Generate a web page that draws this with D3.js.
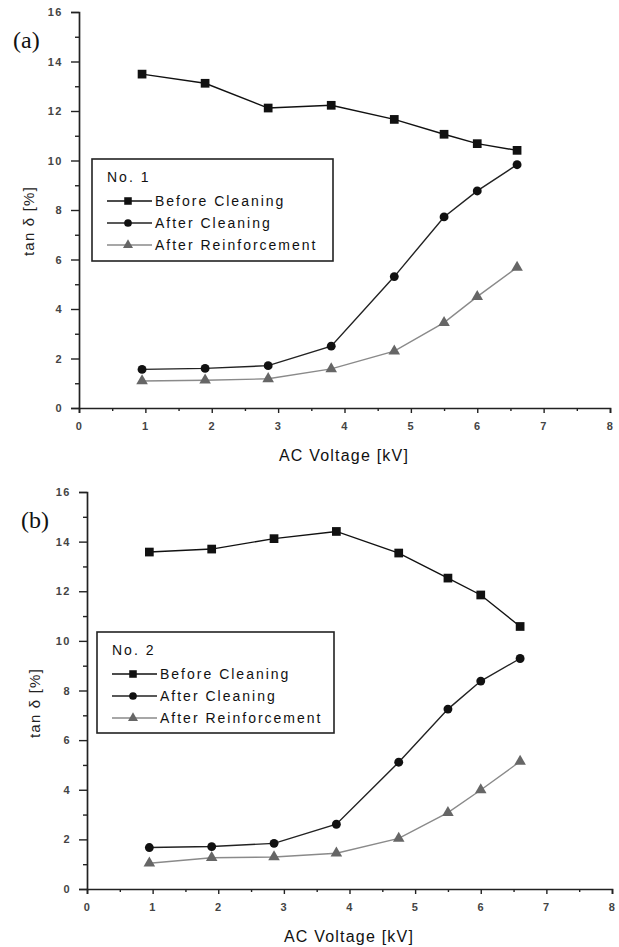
<!DOCTYPE html>
<html><head><meta charset="utf-8">
<script src="https://cdn.jsdelivr.net/npm/d3@7"></script>
<style>body{margin:0;background:#fff}svg{display:block}</style>
</head><body>
<svg id="c" width="619" height="947"></svg>
<script>
const voltage = [0.95, 1.9, 2.85, 3.8, 4.75, 5.5, 6.0, 6.6];
const seriesNames = ["Before Cleaning", "After Cleaning", "After Reinforcement"];
const xTicks = [0,1,2,3,4,5,6,7,8];
const yTicks = [0,2,4,6,8,10,12,14,16];
// Panel (a) No. 1
const a_before = [13.49, 13.12, 12.12, 12.23, 11.66, 11.06, 10.68, 10.41];
const a_after  = [1.56, 1.60, 1.71, 2.50, 5.31, 7.72, 8.77, 9.83];
const a_reinf  = [1.09, 1.12, 1.18, 1.58, 2.30, 3.45, 4.50, 5.68];
// Panel (b) No. 2
const b_before = [13.58, 13.70, 14.12, 14.41, 13.54, 12.53, 11.85, 10.58];
const b_after  = [1.67, 1.71, 1.84, 2.61, 5.11, 7.25, 8.38, 9.29];
const b_reinf  = [1.04, 1.26, 1.29, 1.44, 2.04, 3.08, 3.99, 5.14];

const svg = d3.select("#c");
const FONT = "Liberation Sans, Arial, sans-serif";
const styles = [
  {line:"#111", fill:"#111", shape:d3.symbolSquare, size:76},
  {line:"#222", fill:"#111", shape:d3.symbolCircle, size:62},
  {line:"#8a8a8a", fill:"#666", shape:d3.symbolTriangle, size:58}
];

function panel(cfg){
  const g = svg.append("g");
  const x = d3.scaleLinear().domain([0,8]).range([cfg.x0, cfg.x1]);
  const y = d3.scaleLinear().domain([0,16]).range([cfg.y0, cfg.y1]);
  g.append("g").attr("transform",`translate(0,${cfg.y0})`)
    .call(d3.axisBottom(x).tickValues(xTicks).tickSize(5).tickPadding(9).tickFormat(d3.format("d")));
  g.append("g").attr("transform",`translate(0,${cfg.y0})`)
    .call(d3.axisBottom(x).tickValues(d3.range(0.5,8,1)).tickSize(3).tickFormat(""))
    .select(".domain").remove();
  g.append("g").attr("transform",`translate(${cfg.x0},0)`)
    .call(d3.axisLeft(y).tickValues(yTicks).tickSize(8).tickPadding(8).tickFormat(d3.format("d")));
  g.append("g").attr("transform",`translate(${cfg.x0},0)`)
    .call(d3.axisLeft(y).tickValues(d3.range(1,16,2)).tickSize(4).tickFormat(""))
    .select(".domain").remove();
  g.selectAll(".domain").attr("stroke","#222").attr("stroke-width",1.7);
  g.selectAll(".tick line").attr("stroke","#222").attr("stroke-width",1.4);
  g.selectAll(".tick text").attr("font-family",FONT).attr("font-size",11).attr("font-weight","bold")
    .attr("letter-spacing",1.5).attr("fill","#444");

  const data = [cfg.before, cfg.after, cfg.reinf];
  const line = d3.line().x((d,i)=>x(voltage[i])).y(d=>y(d));
  [2,1,0].forEach(k=>{
    g.append("path").datum(data[k]).attr("d",line).attr("fill","none")
      .attr("stroke",styles[k].line).attr("stroke-width",1.4);
    g.selectAll(null).data(data[k]).enter().append("path")
      .attr("transform",(d,i)=>`translate(${x(voltage[i])},${y(d)})`)
      .attr("d",d3.symbol().type(styles[k].shape).size(styles[k].size))
      .attr("fill",styles[k].fill);
  });

  const L = cfg.legend;
  g.append("rect").attr("x",L.x).attr("y",L.y).attr("width",L.w).attr("height",L.h)
    .attr("fill","#fff").attr("stroke","#222").attr("stroke-width",1.6);
  g.append("text").attr("x",L.x+15).attr("y",L.y+23).text(cfg.name)
    .attr("font-family",FONT).attr("font-size",14).attr("letter-spacing",2).attr("fill","#111");
  seriesNames.forEach((n,k)=>{
    const cy = L.y + 42 + k*22;
    g.append("line").attr("x1",L.x+15).attr("x2",L.x+60).attr("y1",cy).attr("y2",cy)
      .attr("stroke",styles[k].line).attr("stroke-width",1.4);
    g.append("path").attr("transform",`translate(${L.x+36},${cy})`)
      .attr("d",d3.symbol().type(styles[k].shape).size(styles[k].size*0.75)).attr("fill",styles[k].fill);
    g.append("text").attr("x",L.x+63).attr("y",cy+5).text(n)
      .attr("font-family",FONT).attr("font-size",14).attr("letter-spacing",2).attr("fill","#111");
  });

  g.append("text").attr("x",cfg.x0-66).attr("y",cfg.y1+36).text(cfg.tag)
    .attr("font-family","Liberation Serif, Times New Roman, serif").attr("font-size",24).attr("fill","#111");
  g.append("text").attr("transform",`translate(${cfg.ylabX},${cfg.ylabY}) rotate(-90)`)
    .attr("text-anchor","middle").text("tan δ [%]")
    .attr("font-family",FONT).attr("font-size",15).attr("letter-spacing",1.2).attr("fill","#222");
  g.append("text").attr("x",cfg.xlabX).attr("y",cfg.y0+53).attr("text-anchor","middle")
    .text("AC Voltage [kV]")
    .attr("font-family",FONT).attr("font-size",16).attr("letter-spacing",1.2).attr("fill","#111");
}

panel({x0:79, x1:610, y0:408, y1:12, before:a_before, after:a_after, reinf:a_reinf,
  name:"No. 1", tag:"(a)", legend:{x:92, y:159, w:241, h:102}, ylabX:34, ylabY:221, xlabX:344});
panel({x0:87, x1:612, y0:889, y1:492, before:b_before, after:b_after, reinf:b_reinf,
  name:"No. 2", tag:"(b)", legend:{x:97, y:632, w:237, h:101}, ylabX:40, ylabY:703, xlabX:349});
</script>
</body></html>
